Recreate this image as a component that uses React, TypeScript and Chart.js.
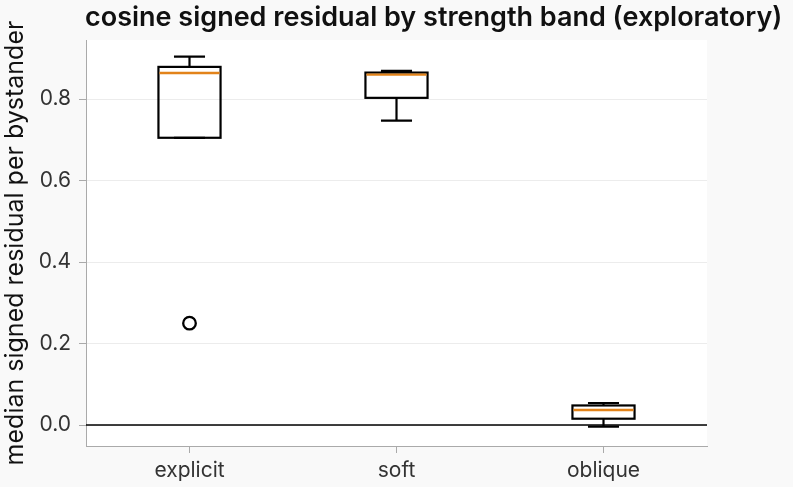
import React, { useEffect, useRef } from "react";
import { Chart, registerables } from "chart.js";

Chart.register(...registerables);

// Strength bands and their box statistics
const categories = ["explicit", "soft", "oblique"];
const q1 = [0.705, 0.803, 0.0155];
const median = [0.864, 0.86, 0.037];
const q3 = [0.879, 0.865, 0.048];
const whiskerLow = [0.705, 0.747, -0.004];
const whiskerHigh = [0.904, 0.869, 0.054];
const outliers = [0.25, null, null];
const yTicks = [0, 0.2, 0.4, 0.6, 0.8];

const titleText = "cosine signed residual by strength band (exploratory)";
const yLabel = "median signed residual per bystander";
const FONT = "Inter, 'DejaVu Sans', sans-serif";

const boxPlugin = {
  id: "boxExtras",
  beforeDraw(chart: any) {
    const { ctx, chartArea } = chart;
    ctx.save();
    ctx.fillStyle = "#f9f9f9";
    ctx.fillRect(0, 0, chart.width, chart.height);
    ctx.fillStyle = "#ffffff";
    ctx.fillRect(chartArea.left, chartArea.top, chartArea.right - chartArea.left, chartArea.bottom - chartArea.top);
    ctx.restore();
  },
  beforeDatasetsDraw(chart: any) {
    const { ctx, chartArea, scales } = chart;
    const x = scales.x;
    const y = scales.y;
    ctx.save();
    // zero reference line
    const y0 = y.getPixelForValue(0);
    ctx.strokeStyle = "#000000";
    ctx.lineWidth = 1.3;
    ctx.beginPath();
    ctx.moveTo(chartArea.left, y0);
    ctx.lineTo(chartArea.right, y0);
    ctx.stroke();
    // whiskers and caps
    const meta = chart.getDatasetMeta(0);
    ctx.lineWidth = 2.2;
    ctx.lineCap = "butt";
    categories.forEach((_, i) => {
      const bar = meta.data[i];
      const cx = x.getPixelForValue(i);
      const half = bar ? bar.width / 4 : 15;
      const pairs: [number, number][] = [
        [q3[i], whiskerHigh[i]],
        [q1[i], whiskerLow[i]],
      ];
      pairs.forEach(([from, to]) => {
        const pf = y.getPixelForValue(from);
        const pt = y.getPixelForValue(to);
        ctx.beginPath();
        ctx.moveTo(cx, pf);
        ctx.lineTo(cx, pt);
        ctx.stroke();
        ctx.beginPath();
        ctx.moveTo(cx - half, pt);
        ctx.lineTo(cx + half, pt);
        ctx.stroke();
      });
    });
    ctx.restore();
  },
  afterDatasetsDraw(chart: any) {
    const { ctx, scales } = chart;
    const x = scales.x;
    const y = scales.y;
    const meta = chart.getDatasetMeta(0);
    ctx.save();
    categories.forEach((_, i) => {
      const bar = meta.data[i];
      const cx = x.getPixelForValue(i);
      const half = bar.width / 2;
      // box outline centred on the quartile values
      const top = y.getPixelForValue(q3[i]);
      const bottom = y.getPixelForValue(q1[i]);
      ctx.strokeStyle = "#000000";
      ctx.lineWidth = 2.2;
      ctx.strokeRect(cx - half, top, half * 2, bottom - top);
      // median
      const py = y.getPixelForValue(median[i]);
      ctx.strokeStyle = "#e2831a";
      ctx.lineWidth = 2.4;
      ctx.beginPath();
      ctx.moveTo(cx - half + 1, py);
      ctx.lineTo(cx + half - 1, py);
      ctx.stroke();
    });
    // title
    ctx.fillStyle = "#111111";
    ctx.font = `600 27px ${FONT}`;
    ctx.textAlign = "left";
    ctx.textBaseline = "middle";
    ctx.fillText(titleText, 85, 18);
    ctx.restore();
  },
};

export default function App() {
  const ref = useRef<HTMLCanvasElement | null>(null);

  useEffect(() => {
    document.body.style.margin = "0";
    const canvas = ref.current;
    if (!canvas) return;
    const chart = new Chart(canvas, {
      type: "bar",
      data: {
        labels: categories,
        datasets: [
          {
            type: "bar",
            data: categories.map((_, i) => [q1[i], q3[i]]),
            backgroundColor: "rgba(255,255,255,0)",
            borderWidth: 0,
            barPercentage: 0.3,
            categoryPercentage: 1,
            order: 2,
          } as any,
          {
            type: "line",
            data: outliers,
            showLine: false,
            pointRadius: 6.3,
            pointHoverRadius: 6.3,
            pointBackgroundColor: "#ffffff",
            pointBorderColor: "#000000",
            pointBorderWidth: 2.3,
            order: 1,
          } as any,
        ],
      },
      options: {
        animation: false,
        responsive: false,
        devicePixelRatio: 1,
        layout: { padding: { top: 40, right: 86, left: 0, bottom: 0 } },
        plugins: {
          legend: { display: false },
          tooltip: { enabled: false },
          title: { display: false },
        },
        scales: {
          x: {
            type: "category",
            offset: true,
            grid: {
              offset: false,
              drawOnChartArea: false,
              color: "#aaaaaa",
              tickColor: "#aaaaaa",
              tickLength: 7,
            },
            border: { color: "#aaaaaa", width: 1 },
            ticks: {
              color: "#333333",
              font: { family: FONT, size: 21 },
              padding: 5,
            },
            afterFit(scale: any) {
              scale.height = 41;
            },
          },
          y: {
            type: "linear",
            min: -0.0515,
            max: 0.945,
            grid: {
              color: "#ececec",
              tickColor: "#aaaaaa",
              tickLength: 7,
            },
            border: { color: "#aaaaaa", width: 1 },
            ticks: {
              color: "#333333",
              font: { family: FONT, size: 21 },
              padding: 8,
              callback: (v: any) => Number(v).toFixed(1),
            },
            afterBuildTicks(scale: any) {
              scale.ticks = yTicks.map((v) => ({ value: v }));
            },
            title: {
              display: true,
              text: yLabel,
              color: "#111111",
              font: { family: FONT, size: 25 },
              padding: 0,
            },
            afterFit(scale: any) {
              scale.width = 86;
            },
          },
        },
      },
      plugins: [boxPlugin],
    });
    return () => chart.destroy();
  }, []);

  return (
    <div style={{ width: 793, height: 487 }}>
      <canvas ref={ref} width={793} height={487} />
    </div>
  );
}
